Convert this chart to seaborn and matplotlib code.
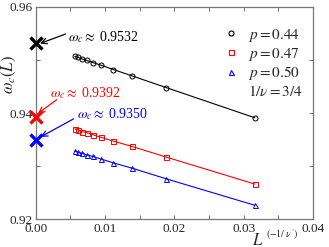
import numpy as np
import pandas as pd
import matplotlib
matplotlib.use("Agg")
import matplotlib.pyplot as plt
from matplotlib.lines import Line2D
import seaborn as sns

# x = L^(-1/nu')
x_vals = [0.00562, 0.00609, 0.00665, 0.00735, 0.00825, 0.00946, 0.01118, 0.01389, 0.01880, 0.03162]
w_044 = [0.9507, 0.9505, 0.9502, 0.9499, 0.9495, 0.9490, 0.9482, 0.9470, 0.9448, 0.9391]
w_047 = [0.9370, 0.9368, 0.9365, 0.9363, 0.9359, 0.9354, 0.9347, 0.9337, 0.9317, 0.9266]
w_050 = [0.9328, 0.9326, 0.9324, 0.9321, 0.9318, 0.9313, 0.9306, 0.9296, 0.9276, 0.9226]
p_labels = ["0.44", "0.47", "0.50"]
w_inf = [0.9532, 0.9392, 0.9350]

colors = ["black", "red", "blue"]
markers = ["o", "s", "^"]

sns.set_style("ticks")
plt.rcParams["font.family"] = ["Liberation Serif", "DejaVu Serif"]
plt.rcParams["mathtext.fontset"] = "stix"

fig, ax = plt.subplots(figsize=(3.29, 2.47), dpi=100)
fig.subplots_adjust(left=0.109, right=0.951, top=0.972, bottom=0.113)

series = [w_044, w_047, w_050]
for ys, c, m in zip(series, colors, markers):
    df = pd.DataFrame({"x": x_vals, "w": ys})
    sns.lineplot(data=df, x="x", y="w", ax=ax, color=c, lw=0.8,
                 marker=m, markersize=3.6, markerfacecolor="none",
                 markeredgecolor=c, markeredgewidth=0.7)

# extrapolated values at x = 0
for w, c in zip(w_inf, colors):
    ax.plot([0], [w], marker="x", color=c, markersize=8, mew=2.4,
            linestyle="none", clip_on=False, zorder=5)

# annotations: text position, arrow start, arrow end (data coords)
text_pos = [(0.00462, 0.9543), (0.00202, 0.9438), (0.00592, 0.9398)]
arrow_from = [(0.00430, 0.9549), (0.00300, 0.9425), (0.00545, 0.9389)]
arrow_to = [(0.00060, 0.9531), (0.00030, 0.9399), (0.00070, 0.9355)]
for w, c, tp, af, at in zip(w_inf, colors, text_pos, arrow_from, arrow_to):
    ax.text(tp[0], tp[1], r"$\omega_c \approx$" + f" {w:.4f}", color=c,
            fontsize=10, ha="left", va="center")
    ax.annotate("", xy=at, xytext=af,
                arrowprops=dict(arrowstyle="->", color=c, lw=0.9,
                                shrinkA=0, shrinkB=0))

# legend
handles = [Line2D([], [], marker=m, color=c, linestyle="none",
                  markerfacecolor="none", markersize=3.6, mew=0.8)
           for m, c in zip(markers, colors)]
labels = [f"$p = {p}$" for p in p_labels]
handles.append(Line2D([], [], linestyle="none"))
labels.append(r"$1/\nu = 3/4$")
leg = ax.legend(handles, labels, loc="upper right", frameon=False,
                fontsize=11, handletextpad=0.5, labelspacing=0.12,
                handlelength=1.2, borderaxespad=0,
                bbox_to_anchor=(0.985, 0.935))

ax.set_xlim(0, 0.04)
ax.set_ylim(0.92, 0.96)
ax.set_xticks(np.arange(0, 0.0401, 0.005))
ax.set_xticklabels(["0.00", "", "0.01", "", "0.02", "", "0.03", "", "0.04"])
ax.set_yticks([0.92, 0.93, 0.94, 0.95, 0.96])
ax.set_yticklabels(["0.92", "", "0.94", "", "0.96"])
ax.tick_params(direction="in", top=True, right=True, length=3, width=0.6,
               labelsize=9.5, color="#555555", pad=2)
ax.tick_params(axis="x", pad=3)
for s in ax.spines.values():
    s.set_color("#777777")
    s.set_linewidth(0.9)

ax.set_xlabel("")
ax.set_ylabel(r"$\omega_c(L)$", fontsize=12, labelpad=0)
ax.yaxis.set_label_coords(-0.065, 0.68)
fig.text(0.765, 0.01, r"$L$", fontsize=12)
fig.text(0.808, 0.035, r"$(\mathrm{-1/}\ \nu')$", fontsize=7)

fig.savefig("out.png", dpi=100)
